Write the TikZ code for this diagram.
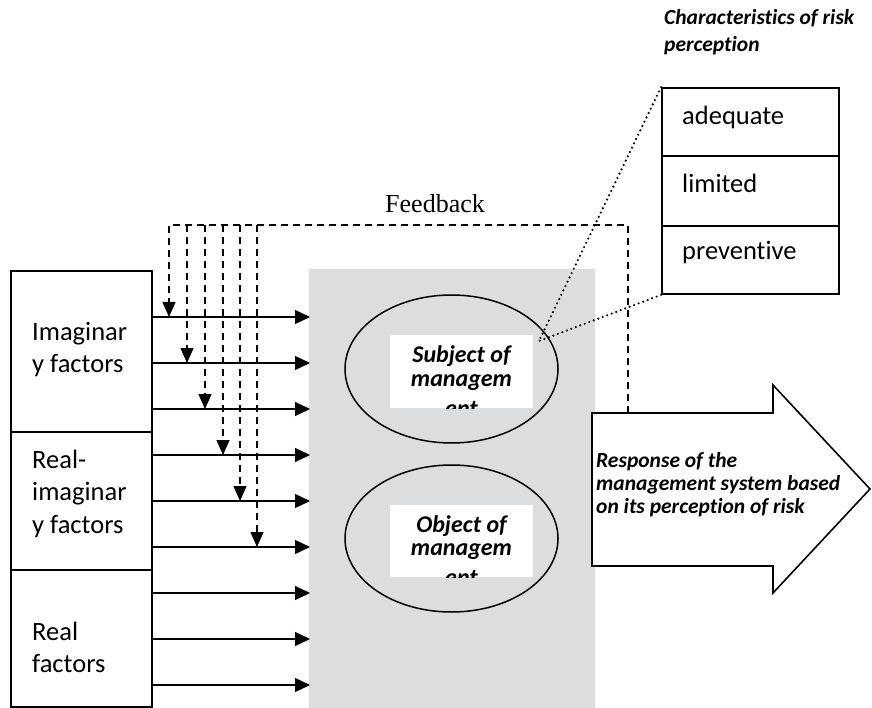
\documentclass[tikz,border=0pt]{standalone}
\usepackage{fontspec}
\setmainfont{Carlito}[Ligatures={NoCommon,NoRare,NoContextual},Contextuals=NoAlternate]
\newfontfamily\timesf{Liberation Serif}
\usetikzlibrary{arrows.meta,shapes.geometric}
\definecolor{panelgray}{RGB}{220,221,223}
\newcommand{\tI}{t\kern0pt i}
\begin{document}
\begin{tikzpicture}[x=1pt,y=-1pt,
  boxline/.style={draw=black,line width=1.8pt},
  flowarrow/.style={line width=1.3pt,-{Triangle[length=15pt,width=14pt]}},
  fbline/.style={line width=1.4pt,dash pattern=on 7pt off 5pt},
  fbarrow/.style={fbline,-{Triangle[length=15pt,width=13pt]}},
  dotline/.style={line width=2.4pt,line cap=round,dash pattern=on 0pt off 4.8pt},
  reg/.style={inner sep=0pt,anchor=base west,font=\fontsize{26.5}{33}\selectfont},
  bi/.style={inner sep=0pt,anchor=base west,font=\fontsize{21.5}{24}\selectfont\bfseries\itshape},
  bic/.style={inner sep=0pt,anchor=base,font=\fontsize{24}{24}\selectfont\bfseries\itshape},
  ellnode/.style={ellipse,draw=black,line width=1.5pt,minimum width=213pt,minimum height=148pt,inner sep=0pt},
  rowbox/.style={rectangle,boxline,minimum width=177pt,inner sep=0pt},
]
\useasboundingbox (0,0) rectangle (872,708);

% grey panel
\fill[panelgray] (309,269) rectangle (595,708);

% left factor boxes
\node[rowbox,minimum width=141pt,minimum height=161pt] (bimag) at (81.5,351.5) {};
\node[rowbox,minimum width=141pt,minimum height=138pt] (brimag) at (81.5,501) {};
\node[rowbox,minimum width=141pt,minimum height=137pt] (breal) at (81.5,638.5) {};
\node[reg] (timag1) at (32,340) {Imaginar};
\node[reg] (timag2) at (32,372) {y factors};
\node[reg] (trim1) at (32,468) {Real-};
\node[reg] (trim2) at (32,500) {imaginar};
\node[reg] (trim3) at (32,533) {y factors};
\node[reg] (treal1) at (32,640) {Real};
\node[reg] (treal2) at (32,672) {factors};

% horizontal input arrows
\foreach \i/\yy in {1/317,2/363,3/409,4/455,5/501,6/547,7/593,8/639,9/685}{
  \coordinate (src\i) at (152,\yy);
  \coordinate (dst\i) at (310,\yy);
  \draw[flowarrow] (src\i) -- (dst\i);
}

% ellipses
\node[ellnode] (subj) at (451.5,369) {};
\node[ellnode,minimum height=147pt] (obj) at (451.5,538.5) {};
\fill[white] (390,335) rectangle (533,408);
\fill[white] (390,505) rectangle (533,577);
\begin{scope}
  \clip (390,335) rectangle (533,408);
  \node[bic] (ts1) at (461.5,362) {Subject of};
  \node[bic] (ts2) at (461.5,386) {managem};
  \node[bic] (ts3) at (461.5,416) {ent};
\end{scope}
\begin{scope}
  \clip (390,505) rectangle (533,577);
  \node[bic] (to1) at (461.5,532) {Object of};
  \node[bic] (to2) at (461.5,555) {managem};
  \node[bic] (to3) at (461.5,585) {ent};
\end{scope}

% response arrow
\draw[line width=1.6pt,fill=white,line join=miter] (592,413) -- (773,413) -- (773,385) -- (870,489) -- (773,593) -- (773,566) -- (592,566) -- cycle;
\coordinate (resp) at (628,413);
\node[bi] (tr1) at (596,467) {Response of the};
\node[bi] (tr2) at (596,490) {management system based};
\node[bi] (tr3) at (596,513) {on its percep\tI on of risk};

% feedback
\coordinate (fbtop) at (628,225);
\coordinate (fbleft) at (169,225);
\draw[fbarrow] (resp) -- (fbtop) -- (fbleft) -- (169,317);
\foreach \x/\yy in {187/363,205/409,223/455,240/501,257/547}{
  \draw[fbarrow] (\x,225) -- (\x,\yy);
}
\node[inner sep=0pt,anchor=base west,font=\timesf\fontsize{26}{30}\selectfont] (tfb) at (385,213) {Feedback};

% characteristics box
\node[rowbox,minimum height=68pt] (adeq) at (750.5,122) {};
\node[rowbox,minimum height=70pt] (limi) at (750.5,191) {};
\node[rowbox,minimum height=68pt] (prev) at (750.5,260) {};
\node[reg] (tadeq) at (682,125) {adequate};
\node[reg] (tlimi) at (682,193) {limited};
\node[reg] (tprev) at (682,260) {preventive};
\node[bi] (tc1) at (664,25) {Characteris\tI cs of risk};
\node[bi] (tc2) at (664,52) {percep\tI on};

% dotted zoom lines
\coordinate (zpt) at (539,341);
\draw[dotline] (adeq.north west) -- (zpt);
\draw[dotline] (prev.south west) -- (zpt);
\end{tikzpicture}
\end{document}
